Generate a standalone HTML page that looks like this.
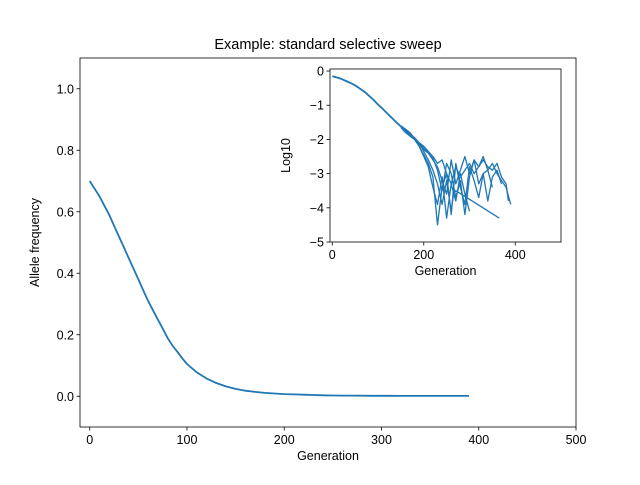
<!DOCTYPE html>
<html><head><meta charset="utf-8"><style>
body{margin:0;background:#fff;font-family:"Liberation Sans",sans-serif}
svg text{font-family:"Liberation Sans",sans-serif;fill:#000}
</style></head><body>
<svg id="c" width="640" height="480" xmlns="http://www.w3.org/2000/svg">
<rect width="640" height="480" fill="#fff"/>
<text x="328" y="49" font-size="14.5" text-anchor="middle">Example: standard selective sweep</text>
<g id="main"></g>
<g id="inset"></g>
</svg>
<script>
const mainGens=[0,5,10,15,20,25,30,35,40,45,50,55,60,65,70,75,80,85,90,95,100,110,120,130,140,150,160,170,180,190,200,210,220,230,240,250,260,270,280,290,300,310,320,330,340,350,360,370,380,390];
const mainFreq=[0.70,0.675,0.65,0.62,0.59,0.555,0.52,0.485,0.45,0.415,0.38,0.345,0.31,0.28,0.25,0.22,0.19,0.165,0.145,0.124,0.105,0.078,0.058,0.043,0.032,0.024,0.018,0.014,0.011,0.009,0.007,0.006,0.005,0.004,0.003,0.0025,0.002,0.002,0.0018,0.0016,0.0015,0.0014,0.0013,0.0012,0.0012,0.0011,0.001,0.001,0.001,0.001];
const mainXTicks=[0,100,200,300,400,500];
const mainYTicks=[0.0,0.2,0.4,0.6,0.8,1.0];
const trunkGens=[0,10,20,30,40,50,60,70,80,90,100,110,120,130,140,150,160,170,180];
const trunkLog=[-0.15,-0.19,-0.23,-0.29,-0.35,-0.42,-0.51,-0.60,-0.72,-0.84,-0.98,-1.10,-1.24,-1.37,-1.50,-1.62,-1.74,-1.86,-1.97];
const rep1Gens=[150,160,170,180,190,200,210,220,230,240,250,260,270,280,290,300,310,320,330,340,350,360,370,380,385];
const rep1Log=[-1.6,-1.7,-1.85,-1.97,-2.1,-2.2,-2.35,-2.5,-2.7,-2.6,-3.0,-3.3,-2.8,-3.1,-2.9,-2.7,-3.0,-2.8,-2.6,-2.8,-2.9,-2.7,-3.1,-3.3,-3.8];
const rep2Gens=[150,160,170,180,190,200,210,220,230,240,250,260,270,280,290,300,310,320,330,340,350,360,370,380,390];
const rep2Log=[-1.65,-1.8,-1.9,-2.0,-2.15,-2.3,-2.4,-2.6,-2.8,-3.2,-3.6,-2.6,-3.3,-2.9,-2.5,-3.0,-2.6,-2.8,-2.5,-2.9,-2.7,-3.0,-3.2,-3.4,-3.9];
const rep3Gens=[160,170,180,190,200,210,220,230,240,250,260,265,270,365];
const rep3Log=[-1.7,-1.8,-1.97,-2.1,-2.35,-2.6,-2.9,-3.3,-3.9,-3.2,-4.1,-3.6,-3.5,-4.3];
const rep4Gens=[160,170,180,190,200,210,220,230,240,250,260,270,280,290,300,310,320,330,340,350];
const rep4Log=[-1.75,-1.9,-2.0,-2.2,-2.45,-2.7,-3.1,-4.5,-3.4,-3.0,-4.2,-2.7,-3.4,-3.9,-2.8,-3.2,-3.7,-3.0,-2.9,-3.4];
const rep5Gens=[170,180,190,200,210,220,230,240,250,260,270,280,290,300,310,320,330,340,350,360,370];
const rep5Log=[-1.85,-1.95,-2.1,-2.25,-2.4,-2.55,-2.9,-3.5,-2.7,-3.0,-3.7,-3.2,-4.2,-3.1,-2.6,-3.3,-3.0,-3.8,-3.1,-2.9,-3.3];
const rep6Gens=[170,180,190,200,210,220,230,240,250,260,270,280,290,300];
const rep6Log=[-1.9,-2.0,-2.2,-2.5,-2.8,-3.4,-3.9,-3.1,-4.3,-3.3,-3.8,-3.0,-3.6,-4.1];
const insetXTicks=[0,200,400];
const insetYTicks=[0,-1,-2,-3,-4,-5];
const NS="http://www.w3.org/2000/svg";
function mk(p,t,a){const e=document.createElementNS(NS,t);for(const k in a)e.setAttribute(k,a[k]);p.appendChild(e);return e;}
function axes(g,L,R,T,B,xmin,xmax,ymin,ymax,xt,yt,fs,xlab,ylab,yfmt,pref){
 const X=v=>L+(v-xmin)/(xmax-xmin)*(R-L), Y=v=>B-(v-ymin)/(ymax-ymin)*(B-T);
 xt.forEach(v=>{const x=X(v);mk(g,'line',{x1:x,x2:x,y1:B,y2:B+3.5,stroke:'#000','stroke-width':0.8});
  const t=mk(g,'text',{x:x,y:B+17,'font-size':fs,'text-anchor':'middle'});t.textContent=v;
  
  });
 yt.forEach(v=>{const y=Y(v);mk(g,'line',{x1:L-3.5,x2:L,y1:y,y2:y,stroke:'#000','stroke-width':0.8});
  const t=mk(g,'text',{x:L-6,y:y+4.5,'font-size':fs,'text-anchor':'end'});t.textContent=yfmt(v);
  
  });
 const xl=mk(g,'text',{x:(L+R)/2,y:B+33,'font-size':fs,'text-anchor':'middle'});xl.textContent=xlab;
 
 
 const yl=mk(g,'text',{x:0,y:0,'font-size':fs,'text-anchor':'middle',transform:`translate(${L-(pref==='main-'?41:40)},${(T+B)/2}) rotate(-90)`});yl.textContent=ylab;
 
 
 return [X,Y];
}
function line(g,X,Y,xs,ys,name,w){const d=xs.map((x,i)=>(i?'L':'M')+X(x).toFixed(1)+','+Y(ys[i]).toFixed(1)).join('');
 const p=mk(g,'path',{d:d,fill:'none',stroke:'#1f77b4','stroke-width':w||1.3,'stroke-linejoin':'round'});
 
 }
const gm=document.getElementById('main');
let [X,Y]=axes(gm,80,576,58,427,-10,500,-0.1,1.1,mainXTicks,mainYTicks,12.5,'Generation','Allele frequency',v=>v.toFixed(1),'main-');
line(gm,X,Y,mainGens,mainFreq,'allele-frequency-line',1.8);
mk(gm,'rect',{x:80,y:58,width:496,height:369,fill:'none',stroke:'#000','stroke-width':0.8});
const gi=document.getElementById('inset');
mk(gi,'rect',{x:330,y:69,width:231,height:173,fill:'#fff'});
[X,Y]=axes(gi,330,561,69,242,-5,500,-5,0.06,insetXTicks,insetYTicks,12.5,'Generation','Log10',v=>v===0?'0':'\u2212'+Math.abs(v),'inset-');
line(gi,X,Y,trunkGens,trunkLog,'log-trunk-line',1.8);
[[rep1Gens,rep1Log],[rep2Gens,rep2Log],[rep3Gens,rep3Log],[rep4Gens,rep4Log],[rep5Gens,rep5Log],[rep6Gens,rep6Log]].forEach((r,i)=>line(gi,X,Y,r[0],r[1],'log-replicate-'+(i+1),1.3));
mk(gi,'rect',{x:330,y:69,width:231,height:173,fill:'none',stroke:'#000','stroke-width':0.8});
</script>
</body></html>
